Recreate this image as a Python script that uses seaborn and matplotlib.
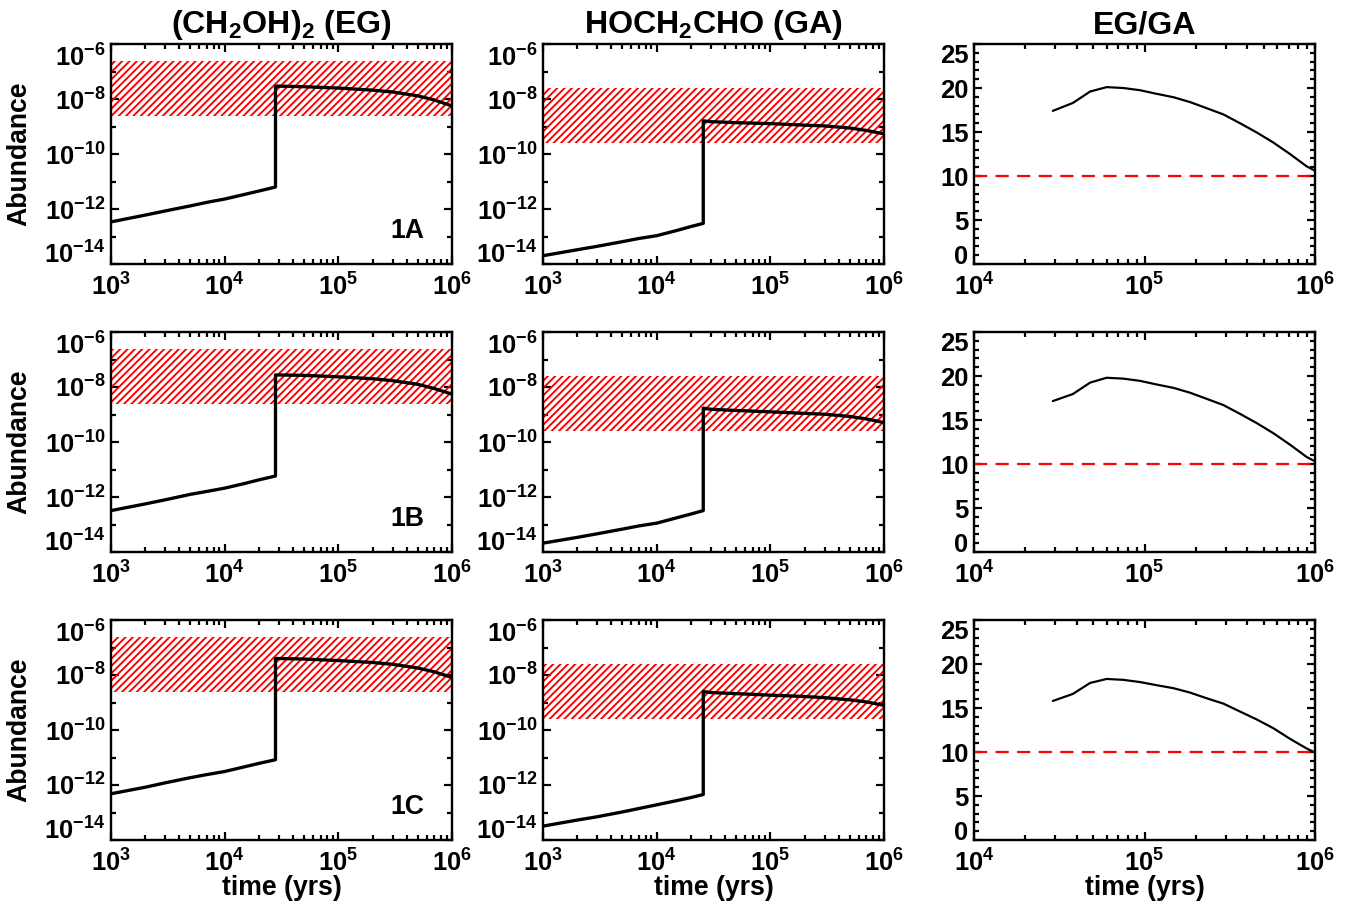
import numpy as np
import matplotlib
matplotlib.use("Agg")
import matplotlib.pyplot as plt
import matplotlib.ticker as mticker
import seaborn as sns

# abundance model curves (time in yrs); the repeated time is the jump
eg_time = [1e3, 2e3, 3e3, 5e3, 7e3, 1e4, 1.5e4, 2e4, 2.8e4,
           2.8e4, 5e4, 1e5, 2e5, 3e5, 5e5, 7e5, 1e6]
ga_time = [1e3, 2e3, 3e3, 5e3, 7e3, 1e4, 1.5e4, 2e4, 2.57e4,
           2.57e4, 3e4, 5e4, 1e5, 2e5, 3e5, 5e5, 7e5, 1e6]

eg_1a = [3.4e-13, 6.0e-13, 8.5e-13, 1.3e-12, 1.75e-12, 2.3e-12, 3.4e-12, 4.5e-12, 6.3e-12,
         2.95e-8, 2.8e-8, 2.5e-8, 2.1e-8, 1.8e-8, 1.3e-8, 9.2e-9, 5.6e-9]
eg_1b = [3.2e-13, 5.6e-13, 7.9e-13, 1.25e-12, 1.6e-12, 2.1e-12, 3.1e-12, 4.2e-12, 5.8e-12,
         2.75e-8, 2.65e-8, 2.35e-8, 2.0e-8, 1.7e-8, 1.25e-8, 8.8e-9, 5.5e-9]
eg_1c = [4.8e-13, 8.3e-13, 1.2e-12, 1.85e-12, 2.4e-12, 3.1e-12, 4.6e-12, 6.1e-12, 8.3e-12,
         4.0e-8, 3.8e-8, 3.35e-8, 2.85e-8, 2.45e-8, 1.8e-8, 1.3e-8, 8.1e-9]

ga_1a = [2.0e-14, 3.3e-14, 4.4e-14, 6.5e-14, 8.5e-14, 1.07e-13, 1.65e-13, 2.3e-13, 3.0e-13,
         1.6e-9, 1.5e-9, 1.38e-9, 1.27e-9, 1.12e-9, 1.05e-9, 8.8e-10, 7.2e-10, 5.4e-10]
ga_1b = [2.1e-14, 3.4e-14, 4.6e-14, 6.8e-14, 8.9e-14, 1.12e-13, 1.75e-13, 2.4e-13, 3.2e-13,
         1.7e-9, 1.55e-9, 1.4e-9, 1.25e-9, 1.1e-9, 1.02e-9, 8.5e-10, 6.9e-10, 5.1e-10]
ga_1c = [3.2e-14, 5.3e-14, 7.0e-14, 1.05e-13, 1.4e-13, 1.9e-13, 2.7e-13, 3.5e-13, 4.5e-13,
         2.5e-9, 2.3e-9, 2.1e-9, 1.85e-9, 1.65e-9, 1.5e-9, 1.25e-9, 1.05e-9, 7.9e-10]

# EG/GA ratio
ratio_time = [2.9e4, 3.8e4, 4.8e4, 6e4, 7.5e4, 9.4e4, 1.17e5, 1.48e5, 1.85e5,
              2.32e5, 2.9e5, 3.63e5, 4.55e5, 5.7e5, 7.13e5, 8.93e5, 1e6]
ratio_1a = [17.4, 18.3, 19.6, 20.1, 20.0, 19.75, 19.35, 18.95, 18.4,
            17.7, 17.0, 16.0, 14.95, 13.8, 12.5, 11.1, 10.6]
ratio_1b = [17.15, 17.95, 19.25, 19.8, 19.7, 19.45, 19.05, 18.65, 18.1,
            17.4, 16.7, 15.7, 14.65, 13.5, 12.2, 10.8, 10.3]
ratio_1c = [15.8, 16.6, 17.85, 18.3, 18.2, 17.95, 17.6, 17.25, 16.75,
            16.1, 15.5, 14.6, 13.7, 12.7, 11.5, 10.4, 9.95]

# observed ranges (hatched) and ratio limit
eg_obs = (2.5e-9, 2.5e-7)
ga_obs = (2.5e-10, 2.5e-8)
ratio_obs = 10

models = ["1A", "1B", "1C"]
eg_rows = [eg_1a, eg_1b, eg_1c]
ga_rows = [ga_1a, ga_1b, ga_1c]
ratio_rows = [ratio_1a, ratio_1b, ratio_1c]

sns.set_style("ticks")
plt.rcParams["font.family"] = ["Liberation Sans", "DejaVu Sans"]
plt.rcParams["font.weight"] = "bold"
plt.rcParams["mathtext.fontset"] = "custom"
plt.rcParams["mathtext.bf"] = "Liberation Sans:bold"
plt.rcParams["mathtext.rm"] = "Liberation Sans:bold"
plt.rcParams["hatch.linewidth"] = 1.05
plt.rcParams["axes.linewidth"] = 1.3
for k in ["text.color", "axes.labelcolor", "axes.edgecolor", "xtick.color", "ytick.color"]:
    plt.rcParams[k] = "black"

W, H = 1356, 911
DPI = 132
fig = plt.figure(figsize=(W / DPI, H / DPI), dpi=DPI)

col_x = [111, 543, 974]
row_top = [44, 332, 620]
pw, ph = 341, 220


def pow_fmt(v, pos):
    e = int(round(np.log10(v)))
    return r"$\mathbf{10^{%d}}$" % e


def style(ax):
    ax.tick_params(which="both", direction="in", top=True, right=True,
                   labelsize=14, width=1.2)
    ax.tick_params(which="major", length=4.5)
    ax.tick_params(which="minor", length=2.5)
    ax.tick_params(axis="x", pad=5)
    ax.tick_params(axis="y", pad=3)
    # keep end labels inside the axis span, like the original
    ticks = ax.yaxis.get_major_ticks()
    ticks[0].label1.set_va("baseline")
    ticks[-1].label1.set_va("top")


def abundance_panel(ax, t, y, band):
    ax.fill_between([1e3, 1e6], band[0], band[1], facecolor="none",
                    edgecolor="red", hatch="//////", linewidth=0)
    sns.lineplot(x=t, y=y, ax=ax, estimator=None, sort=False,
                 color="black", linewidth=1.8)
    ax.set_xscale("log")
    ax.set_yscale("log")
    ax.set_xlim(1e3, 1e6)
    ax.set_ylim(1e-14, 1e-6)
    ax.xaxis.set_major_locator(mticker.FixedLocator([1e3, 1e4, 1e5, 1e6]))
    ax.xaxis.set_minor_locator(mticker.LogLocator(base=10, subs=np.arange(2, 10)))
    ax.xaxis.set_minor_formatter(mticker.NullFormatter())
    ax.yaxis.set_major_locator(mticker.FixedLocator([1e-14, 1e-12, 1e-10, 1e-8, 1e-6]))
    ax.yaxis.set_minor_locator(mticker.FixedLocator([1e-13, 1e-11, 1e-9, 1e-7]))
    ax.yaxis.set_minor_formatter(mticker.NullFormatter())
    ax.xaxis.set_major_formatter(mticker.FuncFormatter(pow_fmt))
    ax.yaxis.set_major_formatter(mticker.FuncFormatter(pow_fmt))
    style(ax)


for r in range(3):
    y0 = 1 - (row_top[r] + ph) / H
    ax_eg = fig.add_axes([col_x[0] / W, y0, pw / W, ph / H])
    ax_ga = fig.add_axes([col_x[1] / W, y0, pw / W, ph / H])
    ax_rt = fig.add_axes([col_x[2] / W, y0, pw / W, ph / H])

    abundance_panel(ax_eg, eg_time, eg_rows[r], eg_obs)
    abundance_panel(ax_ga, ga_time, ga_rows[r], ga_obs)
    ax_eg.text(0.87, 0.15, models[r], transform=ax_eg.transAxes,
               ha="center", va="center", fontsize=14.5, fontweight="bold")
    ax_eg.set_ylabel("Abundance", fontsize=14.5, fontweight="bold")
    ax_eg.yaxis.set_label_coords(-0.232, 0.5)

    ax_rt.axhline(ratio_obs, color="red", linestyle=(0, (6, 3.8)), linewidth=1.2)
    sns.lineplot(x=ratio_time, y=ratio_rows[r], ax=ax_rt, estimator=None,
                 sort=False, color="black", linewidth=1.2)
    ax_rt.set_xscale("log")
    ax_rt.set_xlim(1e4, 1e6)
    ax_rt.set_ylim(0, 25)
    ax_rt.xaxis.set_major_locator(mticker.FixedLocator([1e4, 1e5, 1e6]))
    ax_rt.xaxis.set_minor_locator(mticker.LogLocator(base=10, subs=np.arange(2, 10)))
    ax_rt.xaxis.set_minor_formatter(mticker.NullFormatter())
    ax_rt.xaxis.set_major_formatter(mticker.FuncFormatter(pow_fmt))
    ax_rt.yaxis.set_major_locator(mticker.FixedLocator([0, 5, 10, 15, 20, 25]))
    ax_rt.yaxis.set_minor_locator(mticker.MultipleLocator(1))
    style(ax_rt)

    for ax in (ax_eg, ax_ga, ax_rt):
        ax.set_xlabel("")
        if r == 2:
            ax.set_xlabel("time (yrs)", fontsize=14.5, fontweight="bold")
            ax.xaxis.set_label_coords(0.5, -0.16)

    if r == 0:
        ax_eg.set_title(r"(CH$_\mathbf{2}$OH)$_\mathbf{2}$ (EG)",
                        fontsize=17.5, fontweight="bold", pad=6)
        ax_ga.set_title(r"HOCH$_\mathbf{2}$CHO (GA)",
                        fontsize=17.5, fontweight="bold", pad=6)
        ax_rt.set_title("EG/GA", fontsize=17.5, fontweight="bold", pad=6)

fig.savefig("out.png", dpi=DPI)
